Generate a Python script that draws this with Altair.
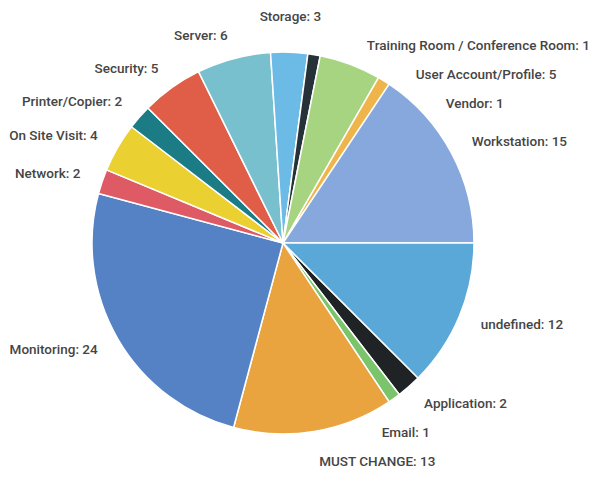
import math
import pandas as pd
import altair as alt

# Data (alphabetical order, as in the source chart)
categories = ["Application", "Email", "MUST CHANGE", "Monitoring", "Network",
              "On Site Visit", "Printer/Copier", "Security", "Server", "Storage",
              "Training Room / Conference Room", "User Account/Profile", "Vendor",
              "Workstation", "undefined"]
counts = [2, 1, 13, 24, 2, 4, 2, 5, 6, 3, 1, 5, 1, 15, 12]
colors = ["#202326", "#7ac46c", "#e9a43f", "#5482c4", "#de5a64",
          "#ebd032", "#1b7c86", "#e05d47", "#79c0cf", "#6bbbe6",
          "#263238", "#a6d480", "#f0b54a", "#87a8dc", "#5aa8d8"]

TOTAL = sum(counts)
START_DEG = 135.0
CX, CY = 275, 235
PIE_R = 191
R_SIDE, R_CENTER, GAP = 214, 226, 29

rows = []
cum = 0
for cat, c in zip(categories, counts):
    mid = cum + c / 2
    ang = (START_DEG + mid / TOTAL * 360) % 360
    rows.append(dict(category=cat, count=c, start=cum, end=cum + c,
                     label=f"{cat}: {c}", ang=ang))
    cum += c
df = pd.DataFrame(rows)

# simple label collision avoidance along each side of the pie
def layout(side_rows, right):
    items = []
    for i in side_rows:
        a = df.loc[i, "ang"]
        s = math.sin(math.radians(a))
        if abs(s) < 0.15:
            al, R = "center", R_CENTER
        else:
            al, R = ("left" if s > 0 else "right"), R_SIDE
        y = -R * math.cos(math.radians(a))
        items.append([i, a, R, y, al, y])
    items.sort(key=lambda t: t[3])
    for k in range(1, len(items)):
        if items[k][3] < items[k - 1][3] + GAP:
            items[k][3] = items[k - 1][3] + GAP
    out = {}
    for i, a, R, y, al, y0 in items:
        if abs(y - y0) < 1e-9:
            out[i] = (a, R, al)
        elif abs(y) <= R:
            na = math.degrees(math.acos(-y / R))
            if not right:
                na = 360 - na
            out[i] = (na, R, al)
        else:
            out[i] = (a, y / -math.cos(math.radians(a)), al)
    return out

right_idx = [i for i in df.index if df.loc[i, "ang"] < 180]
left_idx = [i for i in df.index if df.loc[i, "ang"] >= 180]
pos = {}
pos.update(layout(right_idx, True))
pos.update(layout(left_idx, False))
df["lab_u"] = [((pos[i][0] - START_DEG) % 360) / 360 * TOTAL for i in df.index]
df["lab_r"] = [pos[i][1] for i in df.index]
df["align"] = [pos[i][2] for i in df.index]

theta_scale = alt.Scale(domain=[0, TOTAL],
                        range=[math.radians(START_DEG), math.radians(START_DEG) + 2 * math.pi])

base = alt.Chart(df)
arcs = base.mark_arc(outerRadius=PIE_R, stroke="white", strokeWidth=1.5).encode(
    theta=alt.Theta("start:Q", scale=theta_scale, stack=None),
    theta2="end:Q",
    color=alt.Color("category:N", scale=alt.Scale(domain=categories, range=colors), legend=None),
    x=alt.value(CX), y=alt.value(CY),
)

layers = [arcs]
for al in ["left", "right", "center"]:
    layers.append(
        base.transform_filter(alt.datum.align == al).mark_text(
            align=al, baseline="middle", font="Roboto", fontSize=13.5,
            fontWeight=500, color="#454545"
        ).encode(
            theta=alt.Theta("lab_u:Q", scale=theta_scale, stack=None),
            radius=alt.Radius("lab_r:Q", scale=None),
            text="label:N",
            x=alt.value(CX), y=alt.value(CY),
        )
    )

chart = alt.layer(*layers).properties(
    width=586, height=467, padding=0,
    autosize=alt.AutoSizeParams(type="none"),
).configure_view(stroke=None)

chart.save("out.html", embed_options={"renderer": "svg", "actions": False})
